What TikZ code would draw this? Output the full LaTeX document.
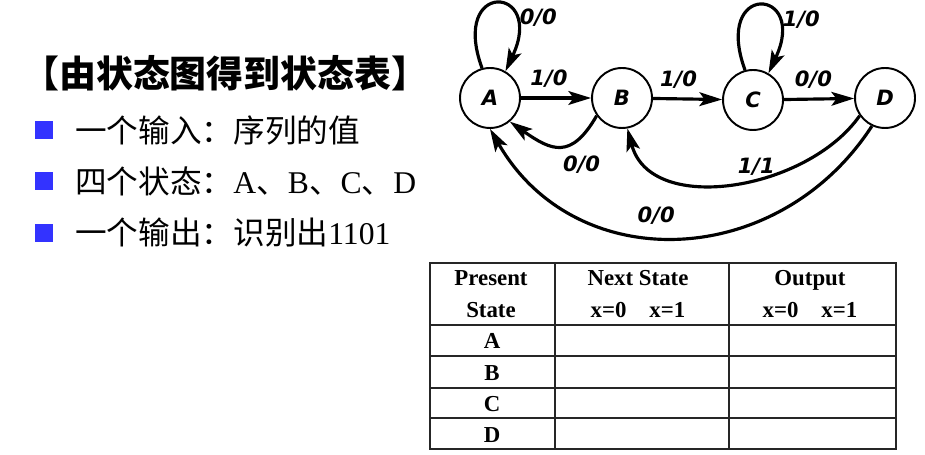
\documentclass[tikz,border=0pt]{standalone}
\usepackage{fontspec}
\setmainfont{Liberation Serif}
\setsansfont{DejaVu Sans}
\newfontfamily\cjk{Noto Sans CJK SC}
\usepackage{tikz}
\usetikzlibrary{arrows.meta, positioning}
\definecolor{bulletblue}{HTML}{3333FF}

\begin{document}
\begin{tikzpicture}[x=0.02cm, y=-0.02cm,
    state/.style={draw, circle, line width=1.1pt, minimum size=1.2cm, inner sep=0pt, font=\sffamily\bfseries\itshape\fontsize{12}{14}\selectfont},
    trans/.style={line width=1.8pt, -{Stealth[length=13pt, width=8pt, inset=3pt, line width=0.8pt]}},
    lbl/.style={font=\sffamily\bfseries\itshape\fontsize{12}{14}\selectfont, inner sep=1pt},
    bullet/.style={fill=bulletblue, minimum size=0.36cm, inner sep=0pt},
    item/.style={anchor=west, font=\cjk\fontsize{18}{20}\selectfont, inner sep=0pt},
    cell/.style={anchor=base, font=\bfseries\fontsize{13}{15}\selectfont, inner sep=0pt},
    tabline/.style={line width=0.9pt, black!85}]
  \fill[white] (0,0) rectangle (925,455);
  \useasboundingbox (0,0) rectangle (925,455);

  \node[anchor=west, inner sep=0pt, font=\cjk\bfseries\fontsize{21}{24}\selectfont] (title) at (22,73) {【由状态图得到状态表】};
  \node[bullet] (b1) at (44,130) {};
  \node[bullet] (b2) at (44,181) {};
  \node[bullet] (b3) at (44,233) {};
  \node[item] (t1) at (75,130) {一个输入：序列的值};
  \node[item] (t2) at (75,181) {四个状态：\textrm{A}、\textrm{B}、\textrm{C}、\textrm{D}};
  \node[item] (t3) at (75,233) {一个输出：识别出\textrm{1101}};

  \node[state] (A) at (490,98) {A};
  \node[state] (B) at (622,98) {B};
  \node[state] (C) at (753,100) {C};
  \node[state] (D) at (885,98) {D};

  \draw[trans] (A.105) .. controls +(110:1.9cm) and +(65:1.9cm) .. node[lbl, pos=0.72, right=2pt] {0/0} (A.60);
  \draw[trans] (C.105) .. controls +(110:1.9cm) and +(65:1.9cm) .. node[lbl, pos=0.72, right=2pt] {1/0} (C.60);
  \draw[trans] (A) -- node[lbl, pos=0.4, above=4pt] {1/0} (B);
  \draw[trans] (B) -- node[lbl, pos=0.37, above=4pt] {1/0} (C);
  \draw[trans] (C) -- node[lbl, pos=0.42, above=4pt] {0/0} (D);
  \draw[trans] (B.215) to[out=240, in=-35, looseness=1.5] node[lbl, pos=0.3, anchor=north, xshift=4pt, yshift=-6pt] {0/0} (A.-50);
  \draw[trans] (D.215) to[out=235, in=-75] node[lbl, pos=0.42, above=0pt] {1/1} (B.-80);
  \draw[trans] (D.245) to[out=237, in=-60, looseness=1.15] node[lbl, pos=0.55, above=5pt] {0/0} (A.-90);

  \draw[tabline] (430,263) rectangle (896,449);
  \draw[tabline] (555,263) -- (555,449);
  \draw[tabline] (729,263) -- (729,449);
  \foreach \y in {325,356,388,418}
    \draw[tabline] (430,\y) -- (896,\y);

  \node[cell] (ps1) at (491,286) {Present};
  \node[cell] (ps2) at (491,317) {State};
  \node[cell] (ns1) at (638,286) {Next State};
  \node[cell] (ns2) at (638,317) {x=0\quad x=1};
  \node[cell] (op1) at (810,286) {Output};
  \node[cell] (op2) at (810,317) {x=0\quad x=1};
  \node[cell] (ra) at (492,349) {A};
  \node[cell] (rb) at (492,380) {B};
  \node[cell] (rc) at (492,411) {C};
  \node[cell] (rd) at (492,442) {D};
\end{tikzpicture}
\end{document}
